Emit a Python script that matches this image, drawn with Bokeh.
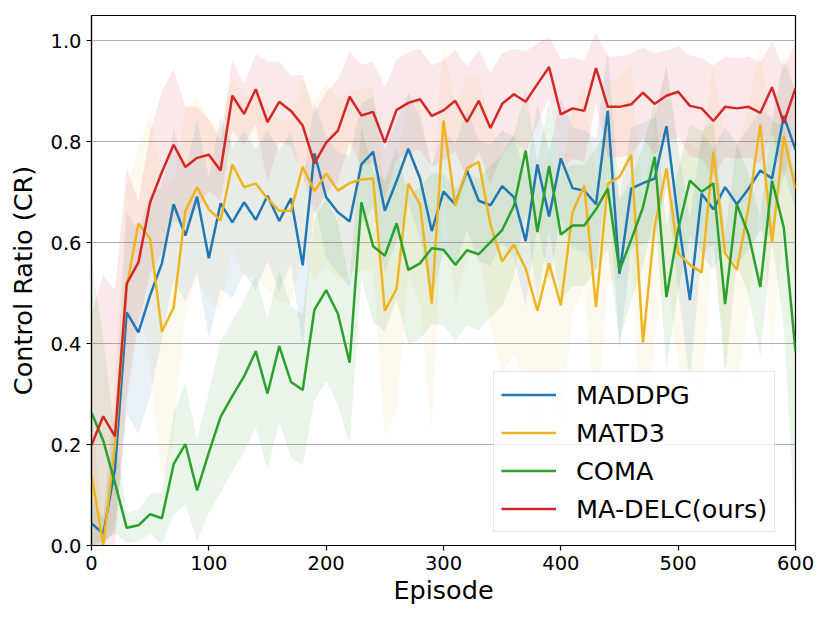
import numpy as np
from bokeh.plotting import figure
from bokeh.models import Legend, LegendItem, FixedTicker, Range1d, CustomJSTickFormatter
from bokeh.embed import file_html
from bokeh.resources import INLINE

episodes = list(range(0, 601, 10))

maddpg = [0.044, 0.023, 0.151, 0.462, 0.422, 0.496, 0.559, 0.676, 0.614, 0.691,
          0.569, 0.678, 0.640, 0.680, 0.645, 0.693, 0.643, 0.688, 0.555, 0.777,
          0.690, 0.660, 0.642, 0.755, 0.780, 0.663, 0.722, 0.786, 0.727, 0.623,
          0.701, 0.676, 0.743, 0.683, 0.674, 0.712, 0.690, 0.603, 0.755, 0.652,
          0.767, 0.708, 0.703, 0.676, 0.861, 0.538, 0.707, 0.718, 0.727, 0.831,
          0.646, 0.486, 0.697, 0.666, 0.710, 0.676, 0.707, 0.743, 0.727, 0.851,
          0.784]
matd3 = [0.141, 0.000, 0.198, 0.512, 0.638, 0.608, 0.424, 0.471, 0.663, 0.710,
         0.666, 0.644, 0.755, 0.710, 0.717, 0.687, 0.663, 0.663, 0.750, 0.702,
         0.737, 0.703, 0.718, 0.725, 0.727, 0.465, 0.509, 0.717, 0.676, 0.479,
         0.842, 0.673, 0.747, 0.760, 0.636, 0.563, 0.596, 0.549, 0.465, 0.559,
         0.476, 0.660, 0.713, 0.472, 0.717, 0.730, 0.774, 0.402, 0.633, 0.747,
         0.579, 0.556, 0.541, 0.780, 0.579, 0.546, 0.670, 0.834, 0.599, 0.810,
         0.707]
coma = [0.263, 0.208, 0.124, 0.035, 0.040, 0.062, 0.054, 0.161, 0.201, 0.109,
        0.184, 0.255, 0.296, 0.335, 0.385, 0.301, 0.395, 0.324, 0.308, 0.467,
        0.506, 0.459, 0.362, 0.680, 0.593, 0.574, 0.638, 0.546, 0.559, 0.589,
        0.586, 0.556, 0.585, 0.577, 0.601, 0.625, 0.673, 0.782, 0.621, 0.752,
        0.616, 0.634, 0.634, 0.666, 0.707, 0.545, 0.606, 0.670, 0.770, 0.492,
        0.626, 0.723, 0.701, 0.717, 0.478, 0.676, 0.616, 0.512, 0.723, 0.630,
        0.385]
madelc = [0.199, 0.256, 0.216, 0.519, 0.561, 0.680, 0.740, 0.794, 0.750, 0.768,
          0.774, 0.743, 0.891, 0.855, 0.904, 0.839, 0.879, 0.861, 0.832, 0.757,
          0.798, 0.822, 0.889, 0.852, 0.859, 0.798, 0.863, 0.877, 0.884, 0.851,
          0.862, 0.881, 0.839, 0.881, 0.827, 0.875, 0.894, 0.879, 0.914, 0.948,
          0.854, 0.866, 0.861, 0.946, 0.869, 0.869, 0.874, 0.897, 0.875, 0.891,
          0.899, 0.871, 0.866, 0.841, 0.869, 0.866, 0.869, 0.857, 0.908, 0.837,
          0.906]

# band half-widths read from the shaded areas
maddpg_sd = [0.05, 0.03, 0.12, 0.20, 0.20, 0.20, 0.15, 0.15, 0.13, 0.15,
             0.16, 0.17, 0.15, 0.14, 0.14, 0.13, 0.14, 0.13, 0.16, 0.10,
             0.12, 0.12, 0.13, 0.12, 0.11, 0.12, 0.12, 0.11, 0.12, 0.13,
             0.12, 0.12, 0.12, 0.12, 0.12, 0.11, 0.12, 0.13, 0.12, 0.13,
             0.12, 0.12, 0.12, 0.13, 0.12, 0.15, 0.12, 0.12, 0.12, 0.12,
             0.14, 0.16, 0.12, 0.12, 0.12, 0.12, 0.12, 0.12, 0.12, 0.11,
             0.12]
matd3_sd = [0.12, 0.05, 0.15, 0.20, 0.15, 0.25, 0.30, 0.25, 0.20, 0.18,
            0.18, 0.18, 0.17, 0.18, 0.18, 0.18, 0.18, 0.18, 0.17, 0.18,
            0.18, 0.18, 0.18, 0.18, 0.18, 0.25, 0.24, 0.18, 0.20, 0.25,
            0.15, 0.20, 0.18, 0.17, 0.20, 0.22, 0.22, 0.22, 0.25, 0.22,
            0.25, 0.20, 0.20, 0.25, 0.20, 0.20, 0.18, 0.28, 0.22, 0.20,
            0.22, 0.24, 0.24, 0.18, 0.22, 0.24, 0.20, 0.16, 0.22, 0.17,
            0.20]
coma_sd = [0.30, 0.20, 0.10, 0.03, 0.03, 0.04, 0.05, 0.10, 0.12, 0.10,
           0.12, 0.15, 0.15, 0.15, 0.15, 0.15, 0.15, 0.15, 0.15, 0.18,
           0.18, 0.18, 0.16, 0.15, 0.15, 0.15, 0.15, 0.15, 0.15, 0.15,
           0.15, 0.15, 0.15, 0.15, 0.15, 0.15, 0.14, 0.12, 0.14, 0.13,
           0.13, 0.12, 0.12, 0.12, 0.12, 0.14, 0.12, 0.12, 0.11, 0.14,
           0.12, 0.11, 0.12, 0.12, 0.14, 0.12, 0.12, 0.14, 0.12, 0.20,
           0.35]
madelc_sd = [0.26, 0.28, 0.29, 0.23, 0.12, 0.14, 0.16, 0.15, 0.12, 0.10,
             0.07, 0.06, 0.07, 0.06, 0.07, 0.12, 0.08, 0.07, 0.10, 0.10,
             0.10, 0.10, 0.09, 0.10, 0.10, 0.11, 0.10, 0.10, 0.10, 0.10,
             0.10, 0.10, 0.11, 0.10, 0.11, 0.10, 0.09, 0.10, 0.08, 0.06,
             0.11, 0.10, 0.10, 0.07, 0.10, 0.10, 0.10, 0.09, 0.10, 0.09,
             0.09, 0.10, 0.10, 0.11, 0.10, 0.10, 0.10, 0.10, 0.09, 0.11,
             0.09]

names = ["MADDPG", "MATD3", "COMA", "MA-DELC(ours)"]
colors = ["#1f77b4", "#f0b420", "#2ca02c", "#d62728"]
band_alpha = [0.1, 0.08, 0.1, 0.1]
means = [maddpg, matd3, coma, madelc]
sds = [maddpg_sd, matd3_sd, coma_sd, madelc_sd]

p = figure(width=814, height=615, output_backend="svg", toolbar_location=None,
           x_range=Range1d(0, 600), y_range=Range1d(0, 1.05),
           min_border_left=91, min_border_right=19, min_border_top=15, min_border_bottom=70)

p.background_fill_color = "white"
p.outline_line_color = "black"
p.outline_line_width = 1.2
p.xgrid.visible = False
p.ygrid.grid_line_color = "#b0b0b0"
p.ygrid.grid_line_width = 1.2

p.xaxis.ticker = FixedTicker(ticks=[0, 100, 200, 300, 400, 500, 600])
p.yaxis.ticker = FixedTicker(ticks=[0.0, 0.2, 0.4, 0.6, 0.8, 1.0])
p.yaxis.formatter = CustomJSTickFormatter(code="return tick.toFixed(1);")

for ax in (p.xaxis, p.yaxis):
    ax.major_label_text_font = "DejaVu Sans"
    ax.major_label_text_font_size = "19.5px"
    ax.major_label_text_color = "black"
    ax.axis_label_text_font = "DejaVu Sans"
    ax.axis_label_text_font_size = "25.5px"
    ax.axis_label_text_font_style = "normal"
    ax.axis_label_text_color = "black"
    ax.minor_tick_line_color = None
    ax.major_tick_out = 5
    ax.major_tick_in = 0
    ax.major_tick_line_color = "black"
    ax.major_tick_line_width = 1.2
    ax.axis_line_color = "black"
    ax.axis_line_width = 1.2
    ax.major_label_standoff = 5

p.xaxis.axis_label = "Episode"
p.yaxis.axis_label = "Control Ratio (CR)"
p.xaxis.axis_label_standoff = 2
p.yaxis.axis_label_standoff = 9

x = np.array(episodes)
renderers = []
for c, m, s, a in zip(colors, means, sds, band_alpha):
    m = np.array(m)
    s = np.array(s)
    lo = np.clip(m - s, 0, 1.05)
    hi = np.clip(m + s, 0, 1.05)
    p.varea(x=x, y1=lo, y2=hi, fill_color=c, fill_alpha=a)

for name, c, m in zip(names, colors, means):
    r = p.line(x=x, y=np.array(m), line_color=c, line_width=2.5)
    renderers.append(r)

legend = Legend(items=[LegendItem(label=n, renderers=[r]) for n, r in zip(names, renderers)],
                location=(402, 13))
legend.label_text_font = "DejaVu Sans"
legend.label_text_font_size = "25.5px"
legend.label_text_color = "black"
legend.glyph_width = 55
legend.glyph_height = 31
legend.label_height = 31
legend.label_standoff = 20
legend.spacing = 7
legend.padding = 7
legend.margin = 0
legend.border_line_color = "#cccccc"
legend.border_line_width = 1.2
legend.background_fill_alpha = 0.85
p.add_layout(legend, "center")

open("out.html", "w").write(file_html(p, INLINE))
